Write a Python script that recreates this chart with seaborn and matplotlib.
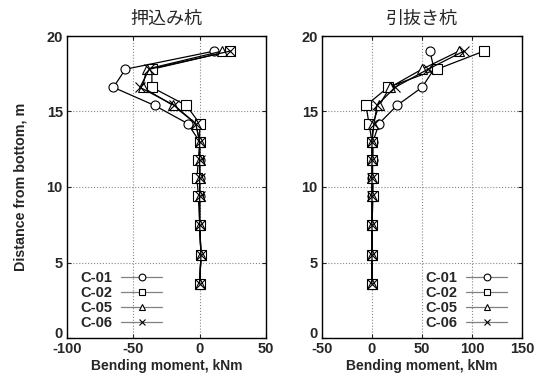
import numpy as np
import pandas as pd
import matplotlib
matplotlib.use("Agg")
import matplotlib.pyplot as plt
import matplotlib.transforms as mtransforms
import seaborn as sns

depth = [19.0, 17.8, 16.6, 15.4, 14.2, 13.0, 11.8, 10.6, 9.4, 7.5, 5.5, 3.6]
series = ["C-01", "C-02", "C-05", "C-06"]
markers = ["o", "s", "^", "x"]

# 押込み杭 (push-in pile)
push_c01 = [11, -56, -65, -34, -9, 0, 0, 0, 0, 0, 1, 0]
push_c02 = [23, -36, -36, -10, 0, 0, -1, -2, -1, 0, 1, 0]
push_c05 = [17, -40, -43, -20, -3, 0, 0, 0, 0, 0, 1, 0]
push_c06 = [23, -38, -45, -19, -3, 0, 0, 0, 0, 0, 1, 0]

# 引抜き杭 (pull-out pile)
pull_c01 = [58, 62, 50, 25, 7, 1, 1, 0, 0, 0, 0, 0]
pull_c02 = [112, 65, 16, -6, -3, 0, 0, 1, 1, 0, 0, 0]
pull_c05 = [87, 50, 18, 7, 1, 0, 0, 0, 0, 0, 0, 0]
pull_c06 = [92, 56, 23, 5, 2, 0, 0, 0, 0, 0, 0, 0]

titles = ["押込み杭", "引抜き杭"]
xlims = [(-100, 50), (-50, 150)]
xticks = [[-100, -50, 0, 50], [-50, 0, 50, 100, 150]]
yticks = [0, 5, 10, 15, 20]

sns.set_style("white")
plt.rcParams["font.family"] = ["Liberation Sans", "Noto Sans CJK JP", "DejaVu Sans"]
plt.rcParams["font.weight"] = "bold"
plt.rcParams["axes.unicode_minus"] = False

fig = plt.figure(figsize=(5.37, 3.76), dpi=100)
W, H = 537, 376
axes = [fig.add_axes([67 / W, 1 - 338 / H, 199 / W, 302 / H]),
        fig.add_axes([322 / W, 1 - 338 / H, 200 / W, 302 / H])]
legend_x = [80, 425]

data_sets = [[push_c01, push_c02, push_c05, push_c06],
             [pull_c01, pull_c02, pull_c05, pull_c06]]

for i, ax in enumerate(axes):
    for name, vals, m in zip(series, data_sets[i], markers):
        df = pd.DataFrame({"moment": vals, "depth": depth})
        sns.lineplot(data=df, x="moment", y="depth", sort=False, estimator=None,
                     ax=ax, color="black", lw=0.9, marker=m, markersize=6.5,
                     markerfacecolor="white", markeredgecolor="black",
                     markeredgewidth=0.8, label=name, zorder=3)
    ax.set_xlim(*xlims[i])
    ax.set_ylim(0, 20)
    ax.set_xticks(xticks[i])
    ax.set_yticks(yticks)
    ax.grid(True, linestyle=":", color="#888888", lw=0.8)
    for s in ax.spines.values():
        s.set_color("black")
        s.set_linewidth(1.0)
    ax.tick_params(labelsize=10.5, direction="in", length=3, width=0.8,
                   top=True, right=True, bottom=True, left=True, pad=3)
    for t in ax.get_xticklabels() + ax.get_yticklabels():
        t.set_fontweight("bold")
    # nudge the "0" y tick label up slightly, as in the reference
    ylabels = ax.get_yticklabels()
    ylabels[0].set_transform(ylabels[0].get_transform() +
                             mtransforms.ScaledTranslation(0, 5 / 100, fig.dpi_scale_trans))
    ax.set_xlabel("Bending moment, kNm", fontsize=10, fontweight="bold", labelpad=2)
    ax.set_ylabel("")
    ax.set_title(titles[i], fontsize=13, family=["Noto Sans CJK JP", "DejaVu Sans"], pad=9)
    leg = ax.legend(loc="lower left", bbox_to_anchor=(legend_x[i] / W, 1 - 330 / H),
                    bbox_transform=fig.transFigure,
                    frameon=False, markerfirst=False,
                    handlelength=2.8, labelspacing=0.06,
                    borderaxespad=0, borderpad=0, handletextpad=0.65,
                    markerscale=0.75,
                    prop={"weight": "bold", "size": 10.5})
    for h in leg.get_lines():
        h.set_color("#808080")
        h.set_markeredgecolor("black")
        h.set_markerfacecolor("white")

axes[0].set_ylabel("Distance from bottom, m", fontsize=10.3, fontweight="bold", labelpad=14)

fig.savefig("out.png", dpi=100)
